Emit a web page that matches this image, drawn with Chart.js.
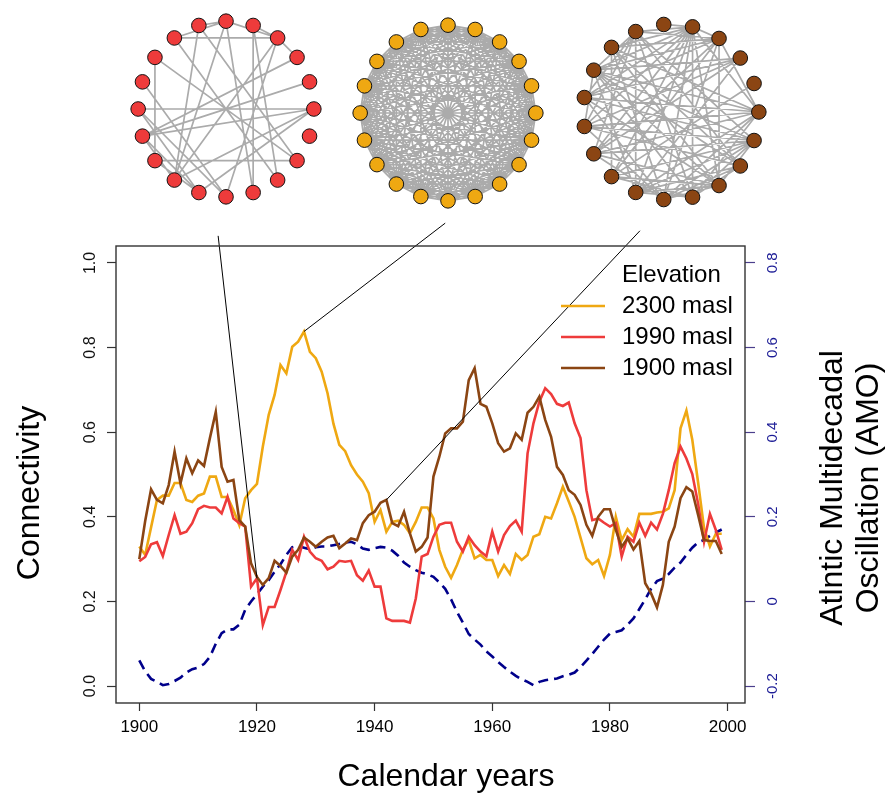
<!DOCTYPE html>
<html><head><meta charset="utf-8">
<script src="https://cdn.jsdelivr.net/npm/chart.js@4.4.1/dist/chart.umd.min.js"></script>
<style>
html,body{margin:0;padding:0;background:#fff;}
#wrap{position:relative;width:888px;height:797px;overflow:hidden;background:#fff;}
canvas{position:absolute;}
</style></head><body>
<div id="wrap">
<canvas id="main" width="888" height="797" style="left:0;top:0;width:888px;height:797px"></canvas>
<canvas id="netRed" width="220" height="220" style="left:116px;top:-1px;width:220px;height:220px"></canvas>
<canvas id="netYellow" width="220" height="220" style="left:338px;top:3px;width:220px;height:220px"></canvas>
<canvas id="netBrown" width="220" height="220" style="left:561px;top:2px;width:220px;height:220px"></canvas>
</div>
<script>
// ---------------- data ----------------
const years = Array.from({length:100},(_, i)=>1900+i);
const xTicks = [1900,1920,1940,1960,1980,2000];
const yTicks = [0,0.2,0.4,0.6,0.8,1.0];
const y2Ticks = [-0.2,0,0.2,0.4,0.6,0.8];

const conn2300 = [0.33,0.31,0.375,0.44,0.45,0.45,0.48,0.48,0.44,0.435,
 0.45,0.455,0.495,0.495,0.447,0.447,0.416,0.38,0.444,0.463,
 0.478,0.566,0.641,0.688,0.759,0.739,0.802,0.814,0.838,0.79,
 0.775,0.743,0.692,0.62,0.57,0.555,0.522,0.50,0.483,0.456,
 0.388,0.416,0.365,0.388,0.391,0.381,0.361,0.388,0.422,0.422,
 0.396,0.322,0.282,0.256,0.286,0.322,0.345,0.302,0.31,0.298,
 0.298,0.26,0.286,0.265,0.312,0.298,0.31,0.353,0.359,0.40,
 0.396,0.432,0.471,0.436,0.40,0.351,0.302,0.288,0.298,0.26,
 0.31,0.40,0.345,0.371,0.353,0.407,0.407,0.407,0.41,0.412,
 0.42,0.463,0.609,0.651,0.582,0.48,0.373,0.33,0.36,0.36];

const conn1990 = [0.295,0.305,0.335,0.34,0.307,0.357,0.404,0.36,0.365,0.385,
 0.418,0.426,0.422,0.422,0.408,0.447,0.396,0.385,0.377,0.235,
 0.255,0.144,0.187,0.187,0.227,0.27,0.322,0.298,0.353,0.318,
 0.302,0.296,0.276,0.282,0.296,0.294,0.296,0.262,0.249,0.273,
 0.235,0.235,0.16,0.154,0.154,0.154,0.15,0.207,0.306,0.312,
 0.353,0.381,0.386,0.386,0.341,0.318,0.353,0.333,0.318,0.307,
 0.365,0.318,0.357,0.378,0.391,0.365,0.55,0.621,0.672,0.704,
 0.69,0.667,0.662,0.67,0.621,0.586,0.463,0.392,0.396,0.386,
 0.377,0.385,0.306,0.353,0.341,0.386,0.355,0.386,0.37,0.407,
 0.463,0.527,0.566,0.538,0.501,0.43,0.341,0.407,0.369,0.322];

const conn1900 = [0.30,0.39,0.465,0.44,0.432,0.475,0.554,0.479,0.538,0.503,
 0.533,0.52,0.586,0.648,0.518,0.483,0.487,0.392,0.377,0.29,
 0.258,0.239,0.255,0.296,0.284,0.268,0.306,0.322,0.351,0.341,
 0.329,0.341,0.351,0.355,0.326,0.337,0.349,0.345,0.385,0.404,
 0.412,0.433,0.44,0.385,0.378,0.412,0.361,0.318,0.329,0.351,
 0.495,0.542,0.597,0.609,0.609,0.625,0.723,0.751,0.667,0.66,
 0.621,0.574,0.554,0.562,0.597,0.582,0.646,0.66,0.684,0.629,
 0.589,0.518,0.499,0.463,0.452,0.428,0.381,0.355,0.40,0.418,
 0.418,0.369,0.329,0.349,0.323,0.343,0.243,0.219,0.186,0.239,
 0.341,0.377,0.444,0.47,0.46,0.404,0.345,0.343,0.343,0.312];

const amo = [-0.139,-0.165,-0.183,-0.19,-0.198,-0.195,-0.188,-0.18,-0.168,-0.16,
 -0.156,-0.148,-0.131,-0.10,-0.075,-0.066,-0.066,-0.055,-0.02,0.0,
 0.017,0.035,0.05,0.07,0.088,0.11,0.128,0.131,0.127,0.123,
 0.128,0.13,0.13,0.133,0.136,0.139,0.141,0.135,0.125,0.122,
 0.126,0.129,0.127,0.12,0.108,0.092,0.082,0.074,0.068,0.064,
 0.058,0.045,0.03,0.005,-0.025,-0.05,-0.077,-0.09,-0.102,-0.118,
 -0.13,-0.143,-0.155,-0.166,-0.176,-0.184,-0.19,-0.198,-0.19,-0.186,
 -0.184,-0.182,-0.177,-0.173,-0.168,-0.155,-0.14,-0.124,-0.107,-0.09,
 -0.076,-0.072,-0.068,-0.055,-0.04,-0.018,0.005,0.03,0.048,0.054,
 0.065,0.08,0.092,0.11,0.127,0.14,0.145,0.155,0.163,0.17];

const seriesLabels = ['2300 masl','1990 masl','1900 masl'];
const legendTitle = 'Elevation';
const xTitle = 'Calendar years';
const yTitle = 'Connectivity';
const y2Title = ['Atlntic Multidecadal','Oscillation (AMO)'];

// connectors: network anchor (data units) -> highlighted year on a series
const connRed    = [{x:1913.4,y:1.064},{x:1920,y:conn1990[20]}];
const connYellow = [{x:1952.0,y:1.094},{x:1928,y:conn2300[28]}];
const connBrown  = [{x:1985.1,y:1.076},{x:1942,y:conn1900[42]}];

// networks (node index k sits at angle 2*pi*k/n, igraph circle layout)
const redNodes = 20, yellowNodes = 20, brownNodes = 19;
const redEdges = [[0,10],[12,18],[3,7],[8,12],[8,18],[9,15],[2,11],[1,11],[0,11],[11,13],[11,14],[10,14],
 [3,13],[0,13],[6,13],[0,14],[4,16],[5,16],[7,17],[3,15],[6,18],[2,3],[5,6],[3,5],[3,4],[5,7],[5,13],[4,17],[10,15],[12,14]];
const yellowAdj = [
 "1 2 3 4 5 6 7 8 9 10 11 12 13 14 15 16 17 18 19",
 "2 3 4 5 6 7 8 9 10 11 12 13 14 15 16 17 18 19",
 "3 4 5 6 7 8 9 10 11 12 13 14 15 16 17 18 19",
 "4 5 6 7 8 9 10 11 12 13 14 15 16 17 18 19",
 "5 6 7 8 9 10 11 12 13 14 15 16 17 18 19",
 "6 7 8 9 10 11 12 13 14 15 16 17 18 19",
 "7 8 9 10 11 12 13 14 15 16 17 18 19",
 "8 9 10 11 12 13 14 15 16 17 18 19",
 "9 10 11 12 13 14 15 16 17 18 19",
 "10 11 12 13 14 15 16 17 18 19",
 "11 12 13 14 15 16 17 18 19",
 "12 13 14 15 16 17 18 19",
 "13 14 15 16 17 18 19",
 "14 15 16 17 18 19",
 "15 16 17 18 19",
 "16 17 18 19",
 "17 18 19",
 "18 19",
 "19",
 ""];
const brownEdges = [[4,6],[4,7],[4,8],[4,9],[4,10],[4,12],[4,13],[4,14],[4,15],[4,16],[4,3],[4,5],[4,11],[4,0],
 [3,6],[3,7],[3,9],[3,11],[3,12],[3,14],[3,16],[3,0],
 [8,0],[8,18],[8,17],[8,16],[8,15],[8,2],[8,3],[8,6],[8,10],[8,13],
 [6,13],[6,15],[6,17],[6,18],[6,10],[6,11],[6,9],
 [7,14],[7,16],[7,0],[7,17],[7,12],
 [9,0],[9,18],[9,16],[9,2],[9,14],
 [10,0],[10,17],[10,18],[10,2],[10,14],
 [11,18],[11,16],[11,0],[11,2],[11,14],
 [12,18],[12,16],[12,15],[12,1],
 [13,16],[13,17],[13,18],[13,15],[13,0],[13,2],
 [14,17],[14,18],[14,16],[14,0],
 [15,17],[15,18],[15,0],[16,18]];

const COL_Y = '#EFA812', COL_R = '#EE3B3B', COL_B = '#8B4513', COL_AMO = '#00008B';
const FONT = '"Liberation Sans", Arial, Helvetica, sans-serif';

// ---------------- networks ----------------
function circleNodes(n){
  const pts=[];
  for(let k=0;k<n;k++){const t=2*Math.PI*k/n; pts.push({x:Math.cos(t),y:Math.sin(t)});}
  return pts;
}
function edgeData(pts, edges){
  const d=[];
  edges.forEach(([a,b])=>{d.push({x:pts[a].x,y:pts[a].y},{x:pts[b].x,y:pts[b].y},{x:null,y:null});});
  return d;
}
function makeNet(id, n, edges, color){
  const R = 110/95;
  const pts = circleNodes(n);
  new Chart(document.getElementById(id), {
    type:'scatter',
    data:{datasets:[
      {data:pts.map(p=>({x:p.x,y:p.y})), showLine:false, pointRadius:7.3, pointHoverRadius:7.3,
       backgroundColor:color, borderColor:'#000', pointBackgroundColor:color, pointBorderColor:'#111', pointBorderWidth:1},
      {data:edgeData(pts,edges), showLine:true, spanGaps:false, pointRadius:0, pointHoverRadius:0,
       borderColor:'#ababab', borderWidth:1.7}
    ]},
    options:{responsive:false, animation:false, events:[], layout:{padding:0},
      plugins:{legend:{display:false}, tooltip:{enabled:false}},
      scales:{x:{type:'linear',min:-R,max:R,display:false}, y:{type:'linear',min:-R,max:R,display:false}}}
  });
}
makeNet('netRed', redNodes, redEdges, COL_R);
const yellowEdges = [];
yellowAdj.forEach((row,i)=>{ row.split(' ').filter(s=>s!=='').forEach(j=>yellowEdges.push([i,+j])); });
makeNet('netYellow', yellowNodes, yellowEdges, COL_Y);
makeNet('netBrown', brownNodes, brownEdges, COL_B);

// ---------------- main chart ----------------
const decor = {
  id:'decor',
  afterDatasetsDraw(chart){
    const {ctx, chartArea:a} = chart;
    ctx.save();
    // legend
    ctx.font = '24px ' + FONT;
    ctx.fillStyle = '#000';
    ctx.textAlign = 'left';
    ctx.textBaseline = 'middle';
    ctx.fillText(legendTitle, a.right-123, a.top+29);
    const cols = [COL_Y, COL_R, COL_B];
    seriesLabels.forEach((lab,i)=>{
      const y = a.top + 60 + 31*i;
      ctx.strokeStyle = cols[i]; ctx.lineWidth = 2.6;
      ctx.beginPath(); ctx.moveTo(a.right-184, y); ctx.lineTo(a.right-140, y); ctx.stroke();
      ctx.fillText(lab, a.right-123, y);
    });
    ctx.restore();
  },
  afterDraw(chart){
    const {ctx, chartArea:a} = chart;
    ctx.save();
    ctx.strokeStyle = '#333'; ctx.lineWidth = 1.4;
    ctx.strokeRect(a.left, a.top, a.right-a.left, a.bottom-a.top);
    ctx.fillStyle = '#000';
    ctx.font = '32px ' + FONT;
    ctx.textAlign = 'center'; ctx.textBaseline = 'middle';
    ctx.fillText(xTitle, 446, 777);
    ctx.save(); ctx.translate(30, 493); ctx.rotate(-Math.PI/2); ctx.fillText(yTitle,0,0); ctx.restore();
    ctx.save(); ctx.translate(833, 488); ctx.rotate(-Math.PI/2); ctx.fillText(y2Title[0],0,0); ctx.restore();
    ctx.save(); ctx.translate(869, 488); ctx.rotate(-Math.PI/2); ctx.fillText(y2Title[1],0,0); ctx.restore();
    ctx.restore();
  }
};

const toXY = arr => arr.map((v,i)=>({x:years[i], y:v}));
const connStyle = {type:'line', borderColor:'#000', borderWidth:1, pointRadius:0, clip:false, yAxisID:'y', tension:0};

new Chart(document.getElementById('main'), {
  type:'line',
  data:{datasets:[
    Object.assign({label:'c1', data:connRed}, connStyle),
    Object.assign({label:'c2', data:connYellow}, connStyle),
    Object.assign({label:'c3', data:connBrown}, connStyle),
    {label:seriesLabels[2], data:toXY(conn1900), borderColor:COL_B, borderWidth:2.6, pointRadius:0, yAxisID:'y', tension:0},
    {label:seriesLabels[1], data:toXY(conn1990), borderColor:COL_R, borderWidth:2.6, pointRadius:0, yAxisID:'y', tension:0},
    {label:seriesLabels[0], data:toXY(conn2300), borderColor:COL_Y, borderWidth:2.6, pointRadius:0, yAxisID:'y', tension:0},
    {label:'AMO', data:toXY(amo), borderColor:COL_AMO, borderWidth:2.6, borderDash:[10,6], pointRadius:0, yAxisID:'y2', tension:0}
  ]},
  options:{
    responsive:false, animation:false, events:[],
    layout:{padding:{top:246,left:0,right:0,bottom:0}},
    plugins:{legend:{display:false}, tooltip:{enabled:false}},
    scales:{
      x:{type:'linear', position:'bottom', min:1896.04, max:2002.96, bounds:'data',
         afterBuildTicks:s=>{s.ticks = xTicks.map(v=>({value:v}));},
         afterFit:s=>{s.height = 94;},
         grid:{drawOnChartArea:false, drawTicks:true, tickLength:8, tickColor:'#333', tickWidth:1.2},
         border:{display:false},
         ticks:{padding:6, color:'#000', font:{family:FONT, size:17}, maxRotation:0, minRotation:0, callback:v=>String(v)}},
      y:{type:'linear', position:'left', min:-0.04, max:1.04, bounds:'data',
         afterBuildTicks:s=>{s.ticks = yTicks.map(v=>({value:v}));},
         afterFit:s=>{s.width = 116;},
         grid:{drawOnChartArea:false, drawTicks:true, tickLength:9, tickColor:'#333', tickWidth:1.2},
         border:{display:false},
         ticks:{padding:5, color:'#111', crossAlign:'center', minRotation:90, maxRotation:90,
                font:{family:FONT, size:16}, callback:v=>v.toFixed(1)}},
      y2:{type:'linear', position:'right', min:-0.24, max:0.84, bounds:'data',
         afterBuildTicks:s=>{s.ticks = y2Ticks.map(v=>({value:v}));},
         afterFit:s=>{s.width = 143;},
         grid:{drawOnChartArea:false, drawTicks:true, tickLength:10, tickColor:'#4b3f8c', tickWidth:1.2},
         border:{display:false},
         ticks:{padding:5, color:'#1c1c96', crossAlign:'center', minRotation:90, maxRotation:90,
                font:{family:FONT, size:15}, callback:v=>(Math.abs(v)<1e-9?'0':v.toFixed(1))}}
    }
  },
  plugins:[decor]
});
</script>
</body></html>
